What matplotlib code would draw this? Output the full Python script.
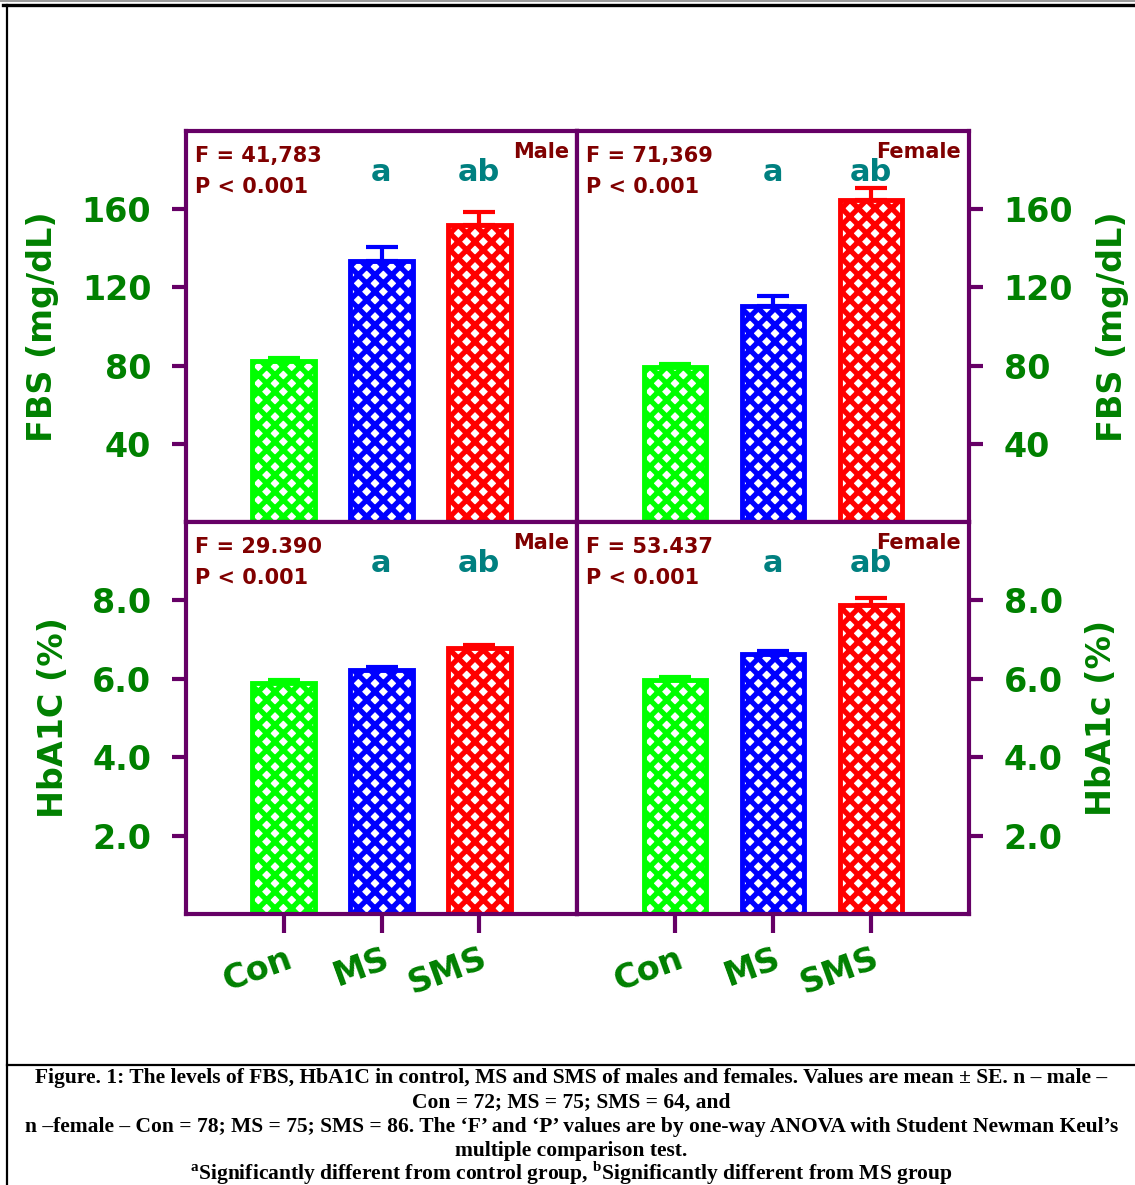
import numpy as np
import matplotlib.pyplot as plt
from matplotlib.lines import Line2D
from matplotlib.transforms import ScaledTranslation

groups = ["Con", "MS", "SMS"]
bar_colors = ["#00ff00", "#0000ff", "#ff0000"]

fbs_male = [82.5, 133.5, 152.0]
fbs_male_se = [1.5, 7.0, 6.5]
fbs_female = [79.5, 110.5, 164.5]
fbs_female_se = [1.5, 5.0, 6.5]
hba1c_male = [5.90, 6.22, 6.79]
hba1c_male_se = [0.06, 0.08, 0.08]
hba1c_female = [5.97, 6.63, 7.88]
hba1c_female_se = [0.08, 0.08, 0.18]

stats_text = {
    "fbs_male": ("F = 41,783", "P < 0.001"),
    "fbs_female": ("F = 71,369", "P < 0.001"),
    "hba1c_male": ("F = 29.390", "P < 0.001"),
    "hba1c_female": ("F = 53.437", "P < 0.001"),
}
sig_labels = ["", "a", "ab"]

fbs_ticks = [40, 80, 120, 160]
hba1c_ticks = [2.0, 4.0, 6.0, 8.0]

caption = [
    "Figure. 1: The levels of FBS, HbA1C in control, MS and SMS of males and females. Values are mean ± SE. n – male –",
    "Con = 72; MS = 75; SMS = 64, and",
    "n –female – Con = 78; MS = 75; SMS = 86. The ‘F’ and ‘P’ values are by one-way ANOVA with Student Newman Keul’s",
    "multiple comparison test.",
]
footnote = r"$^{\mathrm{a}}$Significantly different from control group, $^{\mathrm{b}}$Significantly different from MS group"

PURPLE = "#660066"
GREEN = "#008000"
DARKRED = "#800000"
TEAL = "#008080"

plt.rcParams["hatch.linewidth"] = 3.8
plt.rcParams["font.family"] = "DejaVu Sans"
plt.rcParams["mathtext.fontset"] = "custom"
plt.rcParams["mathtext.rm"] = "Liberation Serif:bold"

W, H = 1135, 1185
fig = plt.figure(figsize=(W / 100, H / 100), dpi=100)


def px_axes(x0, y0, x1, y1):
    return fig.add_axes([x0 / W, 1 - y1 / H, (x1 - x0) / W, (y1 - y0) / H])


def draw_panel(ax, vals, se, ymax, ticks, stats, sex, side, bottom, ylabel, fmt):
    x = np.arange(len(groups))
    # upper half of the error bar only, one per group so each keeps its colour
    for xi, v, e, c in zip(x, vals, se, bar_colors):
        ax.errorbar([xi], [v], yerr=[[0], [e]], fmt="none", ecolor=c,
                    elinewidth=3, capsize=11.5, capthick=3, zorder=1)
    ax.bar(x, vals, width=0.64, color="white", edgecolor=bar_colors,
           hatch="xx", linewidth=3.5, zorder=2)
    ax.set_xlim(-1, 3)
    ax.set_ylim(0, ymax)
    for s in ax.spines.values():
        s.set_color(PURPLE)
        s.set_linewidth(3)
    ax.set_yticks(ticks)
    ax.set_yticklabels([fmt.format(t) for t in ticks])
    ax.tick_params(axis="y", colors=PURPLE, width=3, length=10, direction="out",
                   labelcolor=GREEN, labelsize=24, pad=15,
                   left=(side == "left"), labelleft=(side == "left"),
                   right=(side == "right"), labelright=(side == "right"))
    for lbl in ax.get_yticklabels():
        lbl.set_fontweight("bold")
    if side == "right":
        ax.yaxis.set_label_position("right")
    if ylabel:
        ax.set_ylabel(ylabel, color=GREEN, fontsize=24, fontweight="bold",
                      labelpad=16, rotation=90)
    if bottom:
        ax.set_xticks(x)
        ax.set_xticklabels(groups, rotation=20, ha="right", color=GREEN,
                           fontsize=24, fontweight="bold")
        ax.tick_params(axis="x", colors=PURPLE, width=3, length=14,
                       labelcolor=GREEN, pad=6)
        shift = ScaledTranslation(9 / 72, 0, fig.dpi_scale_trans)
        for lbl in ax.get_xticklabels():
            lbl.set_transform(lbl.get_transform() + shift)
    else:
        ax.set_xticks([])

    ax.text(0.022, 0.936, stats[0], transform=ax.transAxes, color=DARKRED,
            fontsize=15, fontweight="bold", va="center", ha="left")
    ax.text(0.022, 0.857, stats[1], transform=ax.transAxes, color=DARKRED,
            fontsize=15, fontweight="bold", va="center", ha="left")
    for xi, lab in zip(x, sig_labels):
        if lab:
            ax.text(xi, ymax * 0.893, lab, color=TEAL, fontsize=22,
                    fontweight="bold", ha="center", va="center")
    ax.text(0.98, 0.946, sex, transform=ax.transAxes, color=DARKRED,
            fontsize=15, fontweight="bold", ha="right", va="center")


ax1 = px_axes(186, 131, 577, 522)
ax2 = px_axes(577, 131, 969, 522)
ax3 = px_axes(186, 522, 577, 914)
ax4 = px_axes(577, 522, 969, 914)

draw_panel(ax1, fbs_male, fbs_male_se, 200, fbs_ticks, stats_text["fbs_male"],
           "Male", "left", False, "FBS (mg/dL)", "{:.0f}")
draw_panel(ax2, fbs_female, fbs_female_se, 200, fbs_ticks, stats_text["fbs_female"],
           "Female", "right", False, "FBS (mg/dL)", "{:.0f}")
draw_panel(ax3, hba1c_male, hba1c_male_se, 10, hba1c_ticks, stats_text["hba1c_male"],
           "Male", "left", True, "HbA1C (%)", "{:.1f}")
draw_panel(ax4, hba1c_female, hba1c_female_se, 10, hba1c_ticks, stats_text["hba1c_female"],
           "Female", "right", True, "HbA1c (%)", "{:.1f}")

# page frame around the figure and the caption rule
fig.add_artist(Line2D([0, 1], [1 - 1 / H, 1 - 1 / H], color="#888888", lw=1.2))
fig.add_artist(Line2D([3 / W, 1], [1 - 5 / H, 1 - 5 / H], color="black", lw=2.4))
fig.add_artist(Line2D([7 / W, 7 / W], [0, 1 - 5 / H], color="black", lw=1.6))
fig.add_artist(Line2D([7 / W, 1], [1 - 1065 / H, 1 - 1065 / H], color="black", lw=1.6))

cap_y = [1078, 1103, 1127, 1151]
for txt, yy in zip(caption, cap_y):
    fig.text(0.5 + 4 / W, 1 - yy / H, txt, ha="center", va="center",
             family="Liberation Serif", fontweight="bold", fontsize=15.5)
fig.text(0.5 + 4 / W, 1 - 1173 / H, footnote, ha="center", va="center",
         family="Liberation Serif", fontweight="bold", fontsize=15.5)

fig.savefig("out.png", dpi=100)
